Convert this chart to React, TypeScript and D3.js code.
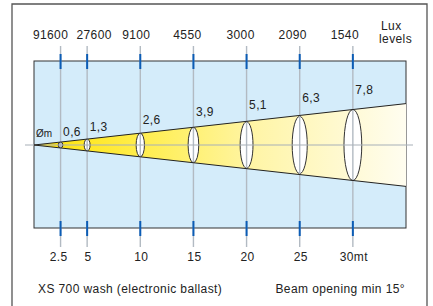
import React, { useEffect, useRef } from "react";
import * as d3 from "d3";

// distances from the fixture (m)
const distances = [2.5, 5, 10, 15, 20, 25, 30];
const distanceLabels = ["2.5", "5", "10", "15", "20", "25", "30mt"];
// lux at each distance
const luxLevels = [91600, 27600, 9100, 4550, 3000, 2090, 1540];
// beam diameter at each distance (m)
const diameters = [0.6, 1.3, 2.6, 3.9, 5.1, 6.3, 7.8];

const W = 433;
const H = 306;

const App: React.FC = () => {
  const svgRef = useRef<SVGSVGElement>(null);

  useEffect(() => {
    if (!svgRef.current) return;
    const svg = d3.select(svgRef.current);
    svg.selectAll("*").remove();

    const font = "'Liberation Sans', Arial, sans-serif";
    const panel = { x0: 34, x1: 406, y0: 61, y1: 228 };
    const cy = 145;
    const maxDist = 35;

    const x = d3.scaleLinear().domain([0, maxDist]).range([panel.x0, panel.x1]);
    // metres of diameter -> pixels of height
    const size = d3.scaleLinear().domain([0, 1]).range([0, 9.1]);
    const beamAt = (d: number) => (diameters[diameters.length - 1] / distances[distances.length - 1]) * d;

    const defs = svg.append("defs");
    const grad = defs.append("linearGradient")
      .attr("id", "beamGradient")
      .attr("gradientUnits", "userSpaceOnUse")
      .attr("x1", x(0)).attr("x2", x(maxDist))
      .attr("y1", 0).attr("y2", 0);
    [["0%", "#ffe200"], ["30%", "#ffee50"], ["60%", "#fff5a8"], ["100%", "#fffdf0"]].forEach(([o, c]) => {
      grad.append("stop").attr("offset", o).attr("stop-color", c);
    });

    // outer frame (open at the bottom)
    svg.append("path")
      .attr("d", `M12,${H + 5} V4 H427 V${H + 5}`)
      .attr("fill", "none")
      .attr("stroke", "#555")
      .attr("stroke-width", 1.3);

    // panel
    svg.append("rect")
      .attr("x", panel.x0).attr("y", panel.y0)
      .attr("width", panel.x1 - panel.x0).attr("height", panel.y1 - panel.y0)
      .attr("fill", "#d4ecfa")
      .attr("stroke", "#333")
      .attr("stroke-width", 1);

    // beam cone
    const half = size(beamAt(maxDist)) / 2;
    svg.append("path")
      .attr("d", `M${x(0)},${cy} L${x(maxDist)},${cy - half} L${x(maxDist)},${cy + half} Z`)
      .attr("fill", "url(#beamGradient)");

    // beam sections
    svg.selectAll(".section")
      .data(distances)
      .enter().append("ellipse")
      .attr("cx", d => x(d))
      .attr("cy", cy)
      .attr("ry", (d, i) => size(diameters[i]) / 2)
      .attr("rx", (d, i) => 1.8 + 0.2 * size(diameters[i]) / 2)
      .attr("fill", (d, i) => (i === 0 ? "#c8ccd0" : "#fff"))
      .attr("stroke", "#333")
      .attr("stroke-width", 1);

    // grid lines
    svg.selectAll(".vline")
      .data(distances)
      .enter().append("line")
      .attr("x1", d => x(d)).attr("x2", d => x(d))
      .attr("y1", 46).attr("y2", 247)
      .attr("stroke", "#b2bac2")
      .attr("stroke-width", 1.4);

    svg.append("line")
      .attr("x1", 25).attr("x2", 413)
      .attr("y1", cy).attr("y2", cy)
      .attr("stroke", "#a8b0b8")
      .attr("stroke-width", 1.2);

    // beam edges
    [-1, 1].forEach(s => {
      svg.append("line")
        .attr("x1", x(0)).attr("y1", cy)
        .attr("x2", x(maxDist)).attr("y2", cy + s * half)
        .attr("stroke", "#222")
        .attr("stroke-width", 1);
    });

    // blue tick marks on the panel border
    [panel.y0, panel.y1].forEach(yy => {
      svg.selectAll(null)
        .data(distances)
        .enter().append("line")
        .attr("x1", d => x(d)).attr("x2", d => x(d))
        .attr("y1", yy - 7).attr("y2", yy + 8)
        .attr("stroke", "#0b5cb5")
        .attr("stroke-width", 2);
    });

    const text = (s: string, tx: number, ty: number, anchor = "middle", fs = 12) =>
      svg.append("text")
        .attr("x", tx).attr("y", ty)
        .attr("text-anchor", anchor)
        .attr("font-family", font)
        .attr("font-size", fs)
        .attr("letter-spacing", 0.4)
        .attr("fill", "#222")
        .text(s);

    // lux labels sit slightly left of their lines, the first two spread apart
    const luxShift = [-10, 7, -4, -6, -6, -7, -8];
    luxLevels.forEach((v, i) => text(String(v), x(distances[i]) + luxShift[i], 39));
    distanceLabels.forEach((s, i) => text(s, x(distances[i]) + (i === 0 ? -2 : 1), 261));

    diameters.forEach((v, i) => {
      const ry = size(v) / 2;
      text(d3.format(".1f")(v).replace(".", ","), x(distances[i]) + 2.5, cy - ry - 6 - 0.28 * ry, "start");
    });

    text("Øm", 36, 137, "start", 10).attr("letter-spacing", 0);
    text("Lux", 381, 30, "start");
    text("levels", 379, 43, "start");

    text("XS 700 wash (electronic ballast)", 38, 293, "start");
    text("Beam opening min 15°", 405, 293, "end");
  }, []);

  return (
    <svg
      ref={svgRef}
      width={W}
      height={H}
      style={{ position: "fixed", left: 0, top: 0, background: "#fff" }}
    />
  );
};

export default App;
